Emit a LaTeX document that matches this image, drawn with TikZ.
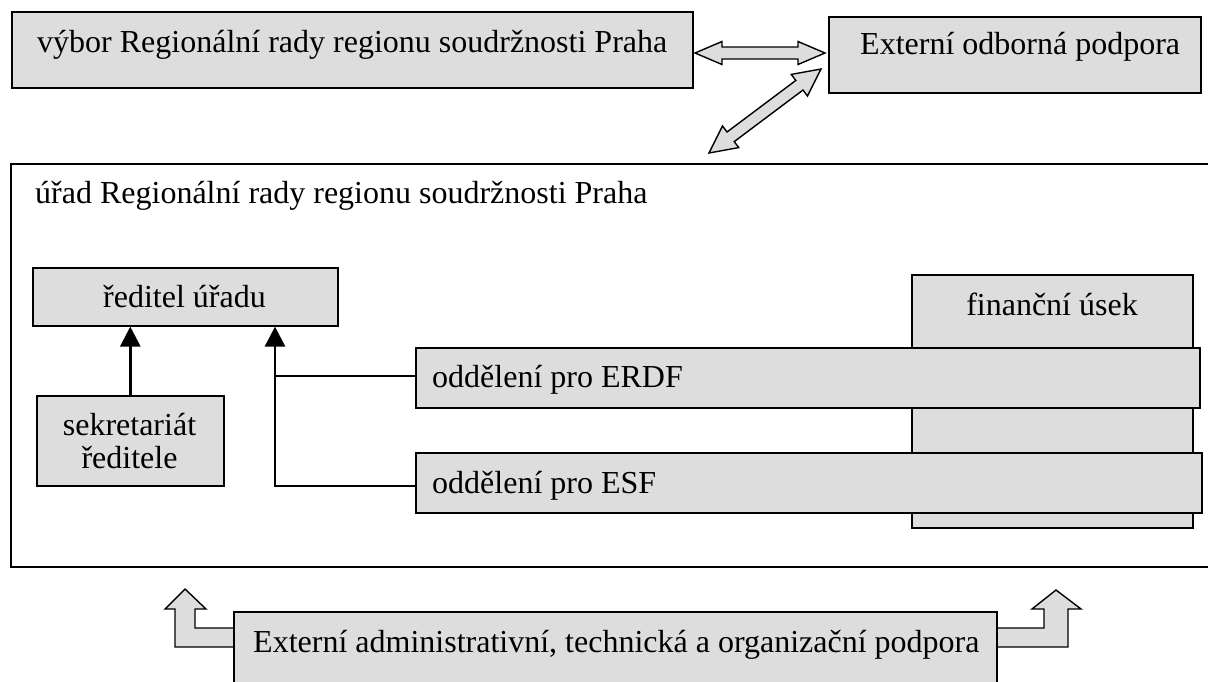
\documentclass[tikz,border=0pt]{standalone}
\usepackage{fontspec}
\setmainfont{Liberation Serif}
\usetikzlibrary{arrows.meta,calc}
\definecolor{boxgray}{HTML}{DDDDDD}
\begin{document}
\begin{tikzpicture}[x=1pt,y=-1pt,
  every node/.style={font=\fontsize{32}{33}\selectfont, inner sep=0pt},
  box/.style={draw=black, fill=boxgray, line width=1.6pt, rectangle},
  txt/.style={anchor=base west},
  blockarrow/.style={draw=black, fill=boxgray, line width=1.4pt, line join=miter},
  conn/.style={draw=black, line width=2.8pt},
  tip/.style={-{Triangle[width=20pt,length=20pt]}}]
\useasboundingbox (0,0) rectangle (1208,681);
\clip (0,0) rectangle (1208,681);
\fill[white] (0,0) rectangle (1208,681);

% main office box
\node[draw=black, line width=1.8pt, fill=white, minimum width=1230pt, minimum height=403pt, anchor=north west] (urad) at (10,163) {};
\node[txt] (uradt) at (35,203) {úřad Regionální rady regionu soudržnosti Praha};

% financial section (behind)
\node[box, minimum width=281pt, minimum height=253pt, anchor=north west] (fin) at (911,274) {};
\node[anchor=base] (fint) at (1052,315) {finanční úsek};

% departments
\node[box, minimum width=784pt, minimum height=60pt, anchor=north west] (erdf) at (415,347) {};
\node[txt] (erdft) at (432,387) {oddělení pro ERDF};
\node[box, minimum width=786pt, minimum height=60pt, anchor=north west] (esf) at (415,452) {};
\node[txt] (esft) at (432,493) {oddělení pro ESF};

% director
\node[box, minimum width=305pt, minimum height=58pt, anchor=north west] (red) at (32,267) {};
\node[anchor=base] (redt) at (184.5,307) {ředitel úřadu};

% secretariat
\node[box, minimum width=187pt, minimum height=90pt, anchor=north west] (sek) at (36,395) {};
\node[align=center, anchor=center] (sekt) at (129.5,441) {sekretariát\\ředitele};

% connectors
\draw[conn, tip] (sek.north) -- (sek.north |- red.south);
\coordinate (j) at (275,0);
\draw[conn] (erdf.west |- 0,376) -- (j |- 0,376);
\draw[conn, tip] (esf.west |- 0,486) -- (j |- 0,486) -- (j |- red.south);

% top boxes
\node[box, minimum width=681pt, minimum height=76pt, anchor=north west] (vybor) at (11,11) {};
\node[txt] (vybort) at (37,52) {výbor Regionální rady regionu soudržnosti Praha};
\node[box, minimum width=372pt, minimum height=76pt, anchor=north west] (ext) at (828,16) {};
\node[txt] (extt) at (860,54) {Externí odborná podpora};

% horizontal double block arrow
\begin{scope}[shift={(695,53)}]
\draw[blockarrow] (0,0) -- (27,-11.5) -- (27,-6) -- (103,-6) -- (103,-11.5) -- (130,0)
  -- (103,11.5) -- (103,6) -- (27,6) -- (27,11.5) -- cycle;
\end{scope}
% diagonal double block arrow
\begin{scope}[shift={(709,153)}, rotate=36.87]
\draw[blockarrow] (0,0) -- (27,-13.5) -- (27,-6) -- (113,-6) -- (113,-13.5) -- (140,0)
  -- (113,13.5) -- (113,6) -- (27,6) -- (27,13.5) -- cycle;
\end{scope}

% bottom bent block arrows
\draw[blockarrow] (234,628) -- (195,628) -- (195,609) -- (206,609) -- (185,589) -- (165,609)
  -- (175,609) -- (175,647) -- (234,647);
\draw[blockarrow] (995,628) -- (1044,628) -- (1044,609) -- (1032,609) -- (1056,590) -- (1081,609)
  -- (1068,609) -- (1068,647) -- (995,647);

% bottom box
\node[box, minimum width=763pt, minimum height=100pt, anchor=north west] (adm) at (233,611) {};
\node[txt] (admt) at (253,652) {Externí administrativní, technická a organizační podpora};
\end{tikzpicture}
\end{document}
